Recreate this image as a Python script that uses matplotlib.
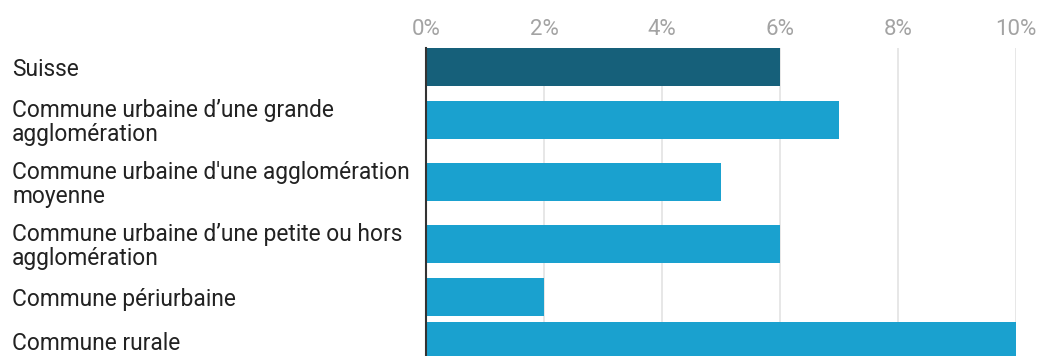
import numpy as np
import matplotlib.pyplot as plt

categories = [
    "Suisse",
    "Commune urbaine d’une grande\nagglomération",
    "Commune urbaine d'une agglomération\nmoyenne",
    "Commune urbaine d’une petite ou hors\nagglomération",
    "Commune périurbaine",
    "Commune rurale",
]
values = [6, 7, 5, 6, 2, 10]
colors = ["#16607a", "#1aa1cf", "#1aa1cf", "#1aa1cf", "#1aa1cf", "#1aa1cf"]
xticks = [0, 2, 4, 6, 8, 10]

plt.rcParams["font.family"] = ["Roboto", "DejaVu Sans"]

# row height depends on number of label lines (in pixels)
nlines = np.array([c.count("\n") + 1 for c in categories])
slots = 26 + 18 * nlines
centers = np.cumsum(slots) - slots / 2

W, H = 1038, 356
fig = plt.figure(figsize=(W / 100, H / 100), dpi=100)
ax = fig.add_axes([426 / W, 0, (1016 - 426) / W, 308 / H])

ax.barh(centers, values, height=37.5, color=colors, zorder=2)
ax.set_xlim(0, 10)
ax.set_ylim(311, 3)

ax.set_xticks(xticks)
ax.set_xticklabels([f"{t}%" for t in xticks])
ax.xaxis.tick_top()
ax.tick_params(axis="x", length=0, pad=6, labelsize=16, labelcolor="#a3a3a3")
ax.grid(axis="x", color="#e3e3e3", linewidth=1.2, zorder=0)

ax.set_yticks(centers)
ax.set_yticklabels(categories, ha="left", linespacing=1.0)
ax.tick_params(axis="y", length=0, pad=298, labelsize=16.4, labelcolor="#222222")

for s in ["top", "right", "bottom"]:
    ax.spines[s].set_visible(False)
ax.spines["left"].set_color("#333333")
ax.spines["left"].set_linewidth(1.5)
ax.spines["left"].set_zorder(3)

fig.savefig("out.png", dpi=100)
